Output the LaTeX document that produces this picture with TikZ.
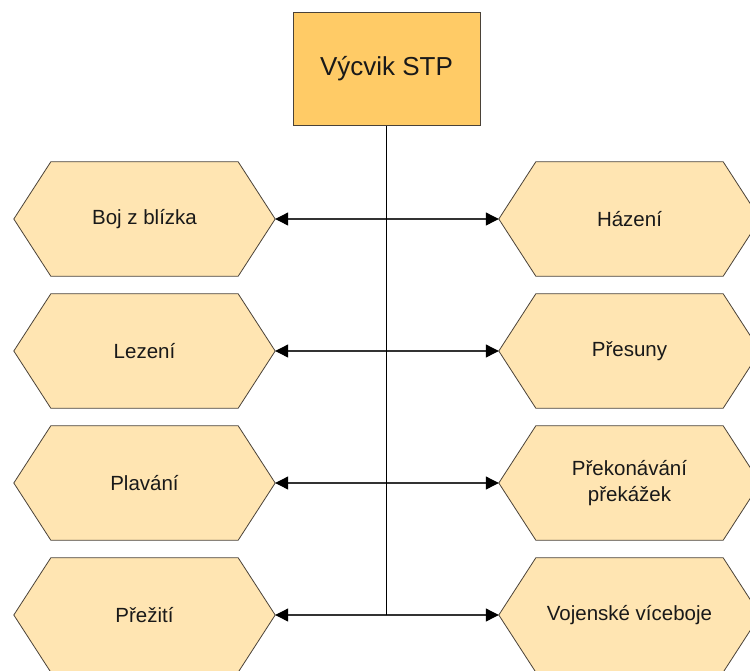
\documentclass[tikz,border=0pt]{standalone}
\usepackage{fontspec}
\setmainfont{Liberation Sans}
\usetikzlibrary{arrows.meta,backgrounds}
\definecolor{topfill}{HTML}{FFCB66}
\definecolor{hexfill}{HTML}{FFE5B2}
\definecolor{edge}{HTML}{4A4238}
\definecolor{wire}{HTML}{333333}
\begin{document}
\begin{tikzpicture}[x=1pt,y=-1pt,
  topbox/.style={draw=edge,fill=topfill,line width=1pt,minimum width=187pt,
    minimum height=113pt,inner sep=0pt,text=black!90,font=\fontsize{26}{30}\selectfont},
  hexbox/.style={minimum width=261pt,minimum height=114pt,inner sep=0pt,
    align=center,text=black!90,font=\fontsize{20.5}{26}\selectfont},
  hexedge/.style={draw=edge,fill=hexfill,line width=0.8pt},
  link/.style={draw=wire,line width=1.1pt,
    -{Triangle[length=13pt,width=13pt,color=black,fill=black]}},
  trunk/.style={draw=black,line width=1.8pt}]
\useasboundingbox (0,0) rectangle (750,670);

% root
\node[topbox] (top) at (386.5,68.5) {Výcvik STP};

% left column
\node[hexbox] (L1) at (144.5,219) {Boj z blízka};
\node[hexbox] (L2) at (144.5,351) {Lezení};
\node[hexbox] (L3) at (144.5,483) {Plavání};
\node[hexbox] (L4) at (144.5,615) {Přežití};

% right column
\node[hexbox] (R1) at (629.5,219) {Házení};
\node[hexbox] (R2) at (629.5,351) {Přesuny};
\node[hexbox] (R3) at (629.5,483) {Překonávání\\překážek};
\node[hexbox] (R4) at (629.5,615) {Vojenské víceboje};

% hexagon outlines behind the labels
\begin{scope}[on background layer]
  \foreach \n in {L1,L2,L3,L4,R1,R2,R3,R4}
    \path[hexedge] (\n.west) -- ([xshift=37pt]\n.north west)
      -- ([xshift=-37pt]\n.north east) -- (\n.east)
      -- ([xshift=-37pt]\n.south east) -- ([xshift=37pt]\n.south west) -- cycle;
\end{scope}

% junctions on the trunk
\coordinate (j1) at (386.5,219);
\coordinate (j2) at (386.5,351);
\coordinate (j3) at (386.5,483);
\coordinate (j4) at (386.5,615);

\foreach \i in {1,2,3,4} {
  \path[link] (j\i) -- (L\i.east);
  \path[link] (j\i) -- (R\i.west);
}
\path[trunk] (top.south) -- (j4);
\end{tikzpicture}
\end{document}
